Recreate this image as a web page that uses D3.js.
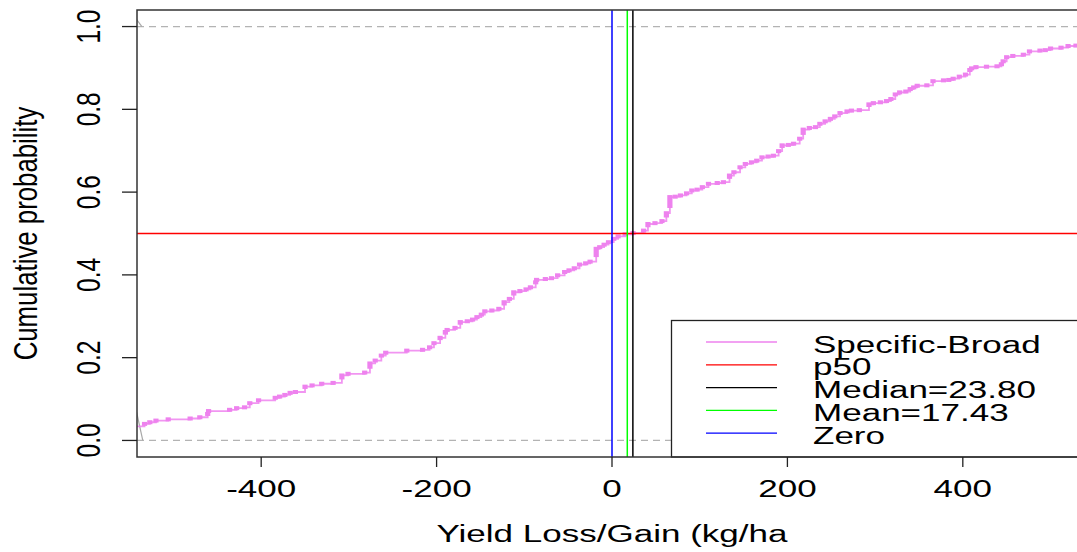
<!DOCTYPE html>
<html>
<head>
<meta charset="utf-8">
<script src="https://cdn.jsdelivr.net/npm/d3@7"></script>
<style>
  body { margin: 0; background: #fff; }
  svg { display: block; }
  text { font-family: "Liberation Sans", Arial, Helvetica, sans-serif; }
</style>
</head>
<body>
<svg id="chart" width="1077" height="552"></svg>
<script>
// ECDF step points (yield loss/gain in kg/ha, cumulative probability)
const lossGain = [-548, -533, -527, -520, -506, -481, -470, -461, -460, -436, -428, -419, -413, -403,
  -384, -379, -373, -367, -361, -350, -342, -331, -318, -308, -301, -282, -276, -270, -263, -258,
  -234, -216, -208, -203, -196, -190, -188, -179, -173, -165, -159, -154, -149, -145, -137, -129,
  -123, -117, -112, -105, -98, -93, -87, -86, -76, -69, -62, -54, -49, -43, -37, -30, -25, -18,
  -14, -9, -4, 2, 7, 15, 24, 36, 41, 49, 57, 62, 66, 72, 78, 85, 91, 97, 103, 110, 120, 127, 134,
  139, 146, 152, 159, 165, 171, 178, 184, 190, 194, 201, 207, 214, 218, 225, 232, 237, 243, 249,
  254, 260, 268, 273, 282, 293, 298, 306, 313, 318, 323, 328, 335, 340, 344, 348, 359, 366, 378,
  384, 389, 396, 403, 408, 410, 415, 427, 439, 444, 446, 450, 457, 469, 476, 488, 494, 500, 512,
  520, 529, 545];
const cumProb = [0.034, 0.040, 0.044, 0.048, 0.051, 0.053, 0.056, 0.064, 0.071, 0.074, 0.078, 0.080,
  0.090, 0.097, 0.103, 0.106, 0.110, 0.115, 0.117, 0.130, 0.133, 0.137, 0.139, 0.157, 0.161, 0.164,
  0.186, 0.193, 0.205, 0.212, 0.217, 0.219, 0.225, 0.235, 0.248, 0.262, 0.267, 0.272, 0.286, 0.288,
  0.292, 0.298, 0.304, 0.312, 0.314, 0.318, 0.334, 0.342, 0.358, 0.361, 0.365, 0.370, 0.382, 0.388,
  0.390, 0.392, 0.399, 0.407, 0.411, 0.416, 0.425, 0.428, 0.432, 0.463, 0.467, 0.473, 0.479, 0.487,
  0.493, 0.498, 0.501, 0.507, 0.523, 0.525, 0.530, 0.549, 0.588, 0.589, 0.592, 0.597, 0.604, 0.606,
  0.612, 0.620, 0.622, 0.624, 0.640, 0.648, 0.660, 0.668, 0.672, 0.676, 0.684, 0.686, 0.688, 0.699,
  0.713, 0.714, 0.717, 0.729, 0.751, 0.755, 0.757, 0.765, 0.771, 0.777, 0.783, 0.791, 0.795, 0.797,
  0.798, 0.812, 0.815, 0.817, 0.820, 0.825, 0.836, 0.841, 0.843, 0.849, 0.853, 0.857, 0.858, 0.868,
  0.870, 0.871, 0.874, 0.879, 0.884, 0.895, 0.899, 0.902, 0.903, 0.904, 0.909, 0.916, 0.926, 0.929,
  0.932, 0.940, 0.942, 0.943, 0.947, 0.949, 0.953, 0.954, 0.957];

const xTicks = [-400, -200, 0, 200, 400];
const yTicks = [0, 0.2, 0.4, 0.6, 0.8, 1.0];
const yTickLabels = ["0.0", "0.2", "0.4", "0.6", "0.8", "1.0"];
const p50 = 0.5;
const medianValue = 23.80;
const meanValue = 17.43;
const zeroValue = 0;
const legendLabels = ["Specific-Broad", "p50", "Median=23.80", "Mean=17.43", "Zero"];
const legendColors = ["violet", "#ff0000", "#000000", "#00ff00", "#0000ff"];
// the two little grey slants at the left edge of the dashed 0/1 lines
const edgeX = [[-543, -535], [-542, -536]];
const edgeY = [[0.077, 0], [1.017, 1]];

const svg = d3.select("#chart");
const plot = { left: 137, right: 1087, top: 10, bottom: 457 };
const stretch = 1.43; // the reference text is drawn wider than tall
const fontSize = 24.5;

const x = d3.scaleLinear().domain([-541.6, 541.6]).range([plot.left, plot.right]);
const y = d3.scaleLinear().domain([-0.04, 1.04]).range([plot.bottom, plot.top]);

svg.append("defs").append("clipPath").attr("id", "plotClip")
  .append("rect")
  .attr("x", plot.left).attr("y", plot.top)
  .attr("width", plot.right - plot.left).attr("height", plot.bottom - plot.top);

const inner = svg.append("g").attr("clip-path", "url(#plotClip)");

// dashed reference lines at 0 and 1
inner.selectAll("line.ref")
  .data([0, 1])
  .join("line")
  .attr("class", "ref")
  .attr("x1", plot.left).attr("x2", plot.right)
  .attr("y1", d => y(d)).attr("y2", d => y(d))
  .attr("stroke", "#b3b3b3").attr("stroke-width", 1.2)
  .attr("stroke-dasharray", "7,5");

inner.selectAll("line.edge")
  .data(edgeX.map((d, i) => ({ xs: d, ys: edgeY[i] })))
  .join("line")
  .attr("class", "edge")
  .attr("x1", d => x(d.xs[0])).attr("x2", d => x(d.xs[1]))
  .attr("y1", d => y(d.ys[0])).attr("y2", d => y(d.ys[1]))
  .attr("stroke", "#a8a8a8").attr("stroke-width", 1.2);

// ECDF steps
const steps = lossGain.map((v, i) => [v, cumProb[i]]);
const stepLine = d3.line()
  .x(d => x(d[0]))
  .y(d => y(d[1]))
  .curve(d3.curveStepAfter);

inner.append("path")
  .datum(steps)
  .attr("d", stepLine)
  .attr("fill", "none")
  .attr("stroke", "violet")
  .attr("stroke-opacity", 0.85)
  .attr("stroke-width", 1.8);

inner.selectAll("rect.pt")
  .data(steps)
  .join("rect")
  .attr("class", "pt")
  .attr("x", d => x(d[0]) - 2.6)
  .attr("width", 5.2)
  .attr("y", d => y(d[1]) - 2)
  .attr("height", (d, i) => {
    if (i === 0) return 4;
    const gap = y(steps[i - 1][1]) - y(d[1]);
    return Math.max(4, gap * 0.8);
  })
  .attr("fill", "violet");

// p50, median, mean and zero lines
inner.append("line")
  .attr("x1", plot.left).attr("x2", plot.right)
  .attr("y1", y(p50)).attr("y2", y(p50))
  .attr("stroke", "#ff0000").attr("stroke-width", 1.5);

inner.selectAll("line.vline")
  .data([
    { v: zeroValue, c: "#0000ff" },
    { v: meanValue, c: "#00ff00" },
    { v: medianValue, c: "#000000" }
  ])
  .join("line")
  .attr("class", "vline")
  .attr("x1", d => x(d.v)).attr("x2", d => x(d.v))
  .attr("y1", plot.top).attr("y2", plot.bottom)
  .attr("stroke", d => d.c).attr("stroke-width", 1.5);

// legend
const legend = svg.append("g");
legend.append("rect")
  .attr("x", 671.5).attr("y", 320.5)
  .attr("width", 430).attr("height", plot.bottom - 320.5)
  .attr("fill", "#fff").attr("stroke", "#222").attr("stroke-width", 1.3);

const rowStep = 22.8;
const rows = legend.selectAll("g.row")
  .data(legendLabels)
  .join("g")
  .attr("class", "row")
  .attr("transform", (d, i) => `translate(0,${342 + i * rowStep})`);

rows.append("line")
  .attr("x1", 706).attr("x2", 777)
  .attr("y1", 0).attr("y2", 0)
  .attr("stroke", (d, i) => legendColors[i]).attr("stroke-width", 1.3);

rows.append("text")
  .attr("transform", `translate(813,10.5) scale(${stretch},1)`)
  .attr("font-size", fontSize)
  .attr("fill", "#000")
  .text(d => d);

// box
svg.append("rect")
  .attr("x", plot.left).attr("y", plot.top)
  .attr("width", plot.right - plot.left).attr("height", plot.bottom - plot.top)
  .attr("fill", "none").attr("stroke", "#333").attr("stroke-width", 1.5);

// x axis
const xAxis = svg.append("g");
xAxis.selectAll("line")
  .data(xTicks)
  .join("line")
  .attr("x1", d => x(d)).attr("x2", d => x(d))
  .attr("y1", plot.bottom).attr("y2", plot.bottom + 10)
  .attr("stroke", "#222").attr("stroke-width", 1.3);
xAxis.selectAll("text")
  .data(xTicks)
  .join("text")
  .attr("transform", d => `translate(${x(d)},497) scale(${stretch},1)`)
  .attr("text-anchor", "middle")
  .attr("font-size", fontSize)
  .text(d => d);

// y axis
const yAxis = svg.append("g");
yAxis.selectAll("line")
  .data(yTicks)
  .join("line")
  .attr("x1", plot.left - 15).attr("x2", plot.left)
  .attr("y1", d => y(d)).attr("y2", d => y(d))
  .attr("stroke", "#222").attr("stroke-width", 1.3);
yAxis.selectAll("text")
  .data(yTicks)
  .join("text")
  .attr("transform", d => `translate(99.5,${y(d)}) scale(1.36,1) rotate(-90)`)
  .attr("text-anchor", "middle")
  .attr("font-size", fontSize)
  .text((d, i) => yTickLabels[i]);

// axis titles
svg.append("text")
  .attr("transform", `translate(${x(0)},542) scale(${stretch},1)`)
  .attr("text-anchor", "middle")
  .attr("font-size", fontSize)
  .text("Yield Loss/Gain (kg/ha");

svg.append("text")
  .attr("transform", `translate(37,${y(0.5)}) scale(1.3,1) rotate(-90)`)
  .attr("text-anchor", "middle")
  .attr("font-size", 25.8)
  .text("Cumulative probability");
</script>
</body>
</html>
